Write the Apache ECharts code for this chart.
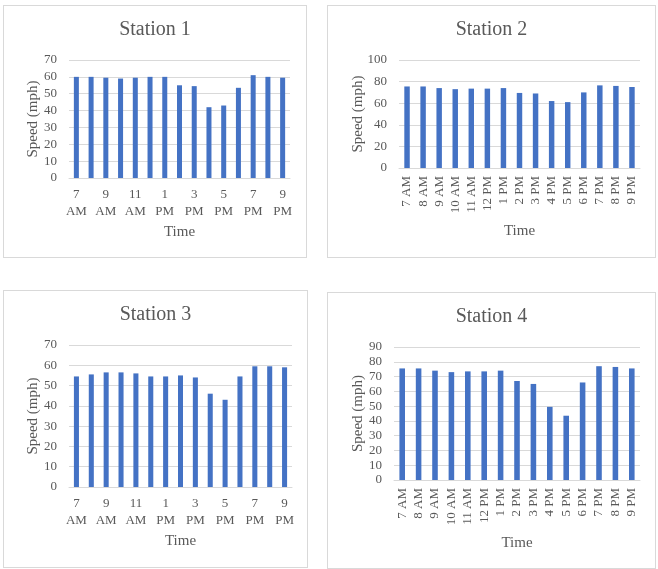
<!DOCTYPE html>
<html>
<head>
<meta charset="utf-8">
<script src="https://cdn.jsdelivr.net/npm/echarts@6/dist/echarts.min.js"></script>
<style>
  body { margin: 0; background: #fff; }
  .panel { position: absolute; border: 1px solid #d9d9d9; box-sizing: border-box; background: #fff; }
</style>
</head>
<body>
<div id="s1" class="panel" style="left:3px;top:5px;width:304px;height:253px;"></div>
<div id="s2" class="panel" style="left:327px;top:5px;width:329px;height:253px;"></div>
<div id="s3" class="panel" style="left:3px;top:290px;width:305px;height:278px;"></div>
<div id="s4" class="panel" style="left:327px;top:292px;width:329px;height:277px;"></div>
<script>
// 时间类别
const hours = ['7 AM', '8 AM', '9 AM', '10 AM', '11 AM', '12 PM', '1 PM', '2 PM', '3 PM', '4 PM', '5 PM', '6 PM', '7 PM', '8 PM', '9 PM']

// 各站点速度 (mph)
const station1 = [60, 60, 59.5, 59, 59.5, 60, 60, 55, 54.5, 42, 43, 53.5, 61, 60, 59.5]
const station2 = [75.5, 75.5, 74, 73, 73.5, 73.5, 74, 69.5, 69, 62, 61, 70, 76.5, 76, 75]
const station3 = [54.5, 55.5, 56.5, 56.5, 56, 54.5, 54.5, 55, 54, 46, 43, 54.5, 59.5, 59.5, 59]
const station4 = [75.5, 75.5, 74, 73, 73.5, 73.5, 74, 67, 65, 49.5, 43.5, 66, 77, 76.5, 75.5]

const FONT = '"Liberation Serif", "Times New Roman", serif'
const TEXT = '#595959'

function drawStation(domId, title, values, yMax, yStep, rotated, grid, gaps) {
  const chart = echarts.init(document.getElementById(domId))
  const option = {
    animation: false,
    title: {
      text: title,
      left: 'center',
      top: 9,
      textStyle: { fontFamily: FONT, fontSize: 20, fontWeight: 'normal', color: TEXT }
    },
    grid: grid,
    xAxis: {
      type: 'category',
      data: hours,
      name: 'Time',
      nameLocation: 'middle',
      nameGap: gaps.x,
      nameMoveOverlap: false,
      nameTextStyle: { fontFamily: FONT, fontSize: 15, color: TEXT },
      axisLine: { lineStyle: { color: '#d9d9d9' } },
      axisTick: { show: false },
      axisLabel: {
        interval: rotated ? 0 : 1,
        rotate: rotated ? 90 : 0,
        fontFamily: FONT,
        fontSize: 13,
        color: TEXT,
        lineHeight: 17,
        margin: 8,
        formatter: v => rotated ? v : v.replace(' ', '\n')
      }
    },
    yAxis: {
      type: 'value',
      min: 0,
      max: yMax,
      interval: yStep,
      name: 'Speed (mph)',
      nameLocation: 'middle',
      nameGap: gaps.y,
      nameMoveOverlap: false,
      nameTextStyle: { fontFamily: FONT, fontSize: 15, color: TEXT },
      axisLine: { show: false },
      axisTick: { show: false },
      axisLabel: { fontFamily: FONT, fontSize: 13, color: TEXT, margin: 12 },
      splitLine: { lineStyle: { color: '#d9d9d9' } }
    },
    series: [{
      type: 'bar',
      data: values,
      barWidth: '34%',
      itemStyle: { color: '#4472c4' }
    }]
  }
  chart.setOption(option)
}

drawStation('s1', 'Station 1', station1, 70, 10, false, { left: 65, top: 54, right: 16, bottom: 79 }, { x: 47, y: 28 })
drawStation('s2', 'Station 2', station2, 100, 20, true, { left: 71, top: 54, right: 15, bottom: 89 }, { x: 56, y: 33 })
drawStation('s3', 'Station 3', station3, 70, 10, false, { left: 65, top: 54, right: 15, bottom: 80 }, { x: 47, y: 28 })
drawStation('s4', 'Station 4', station4, 90, 10, true, { left: 66, top: 54, right: 15, bottom: 88 }, { x: 56, y: 28 })
</script>
</body>
</html>
